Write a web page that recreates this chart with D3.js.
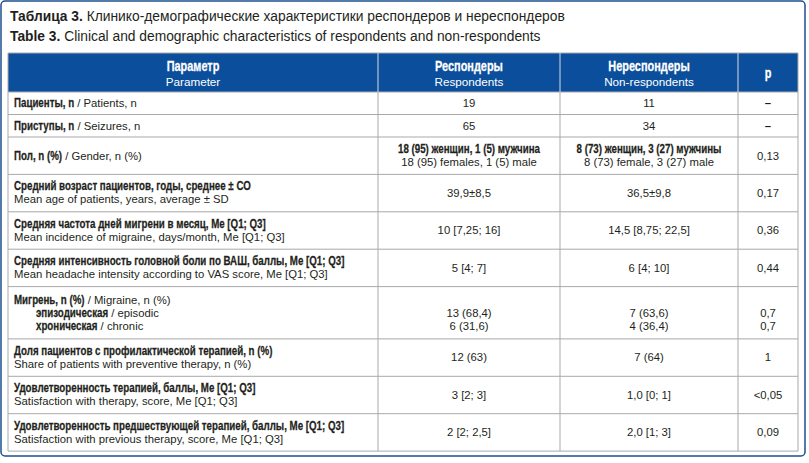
<!DOCTYPE html>
<html>
<head>
<meta charset="utf-8">
<script src="https://cdn.jsdelivr.net/npm/d3@7"></script>
<style>
  body { margin: 0; background: #fff; }
  svg { display: block; }
</style>
</head>
<body>
<div id="wrapper"></div>
<script>
// --- data ---
const titleRu = ["Таблица 3.", " Клинико-демографические характеристики респондеров и нереспондеров"]
const titleEn = ["Table 3.", " Clinical and demographic characteristics of respondents and non-respondents"]

const headRu = ["Параметр", "Респондеры", "Нереспондеры", "p"]
const headEn = ["Parameter", "Respondents", "Non-respondents", ""]

const paramRu = [
  "Пациенты, n",
  "Приступы, n",
  "Пол, n (%)",
  "Средний возраст пациентов, годы, среднее ± СО",
  "Средняя частота дней мигрени в месяц, Me [Q1; Q3]",
  "Средняя интенсивность головной боли по ВАШ, баллы, Me [Q1; Q3]",
  "Мигрень, n (%)",
  "Доля пациентов с профилактической терапией, n (%)",
  "Удовлетворенность терапией, баллы, Me [Q1; Q3]",
  "Удовлетворенность предшествующей терапией, баллы, Me [Q1; Q3]"
]
const paramEn = [
  "Patients, n",
  "Seizures, n",
  "Gender, n (%)",
  "Mean age of patients, years, average ± SD",
  "Mean incidence of migraine, days/month, Me [Q1; Q3]",
  "Mean headache intensity according to VAS score, Me [Q1; Q3]",
  "Migraine, n (%)",
  "Share of patients with preventive therapy, n (%)",
  "Satisfaction with therapy, score, Me [Q1; Q3]",
  "Satisfaction with previous therapy, score, Me [Q1; Q3]"
]
// "inline" = ru / en on one line, "stacked" = en under ru
const paramLayout = ["inline", "inline", "inline", "stacked", "stacked", "stacked", "inline", "stacked", "stacked", "stacked"]

const migraineRow = 6
const migraineTypesRu = ["эпизодическая", "хроническая"]
const migraineTypesEn = ["episodic", "chronic"]

const respondents = [
  "19", "65",
  ["18 (95) женщин, 1 (5) мужчина", "18 (95) females, 1 (5) male"],
  "39,9±8,5", "10 [7,25; 16]", "5 [4; 7]",
  ["", "13 (68,4)", "6 (31,6)"],
  "12 (63)", "3 [2; 3]", "2 [2; 2,5]"
]
const nonRespondents = [
  "11", "34",
  ["8 (73) женщин, 3 (27) мужчины", "8 (73) female, 3 (27) male"],
  "36,5±9,8", "14,5 [8,75; 22,5]", "6 [4; 10]",
  ["", "7 (63,6)", "4 (36,4)"],
  "7 (64)", "1,0 [0; 1]", "2,0 [1; 3]"
]
const pValues = [
  "–", "–", "0,13", "0,17", "0,36", "0,44",
  ["", "0,7", "0,7"],
  "1", "<0,05", "0,09"
]

// --- layout ---
const width = 809, height = 463
const colEdges = [8, 378, 560, 738, 798]
const headerTop = 53, headerBottom = 92
const lineGap = 13
const font = "'Liberation Sans', Arial, sans-serif"
const boldSize = 12.5, boldSquash = 0.78   // no condensed face installed, so squeeze the bold
const regSize = 11.3
const textColor = "#231f20"
const gridColor = "#a9a9a9"
const headBlue = "#0b4f9c"
const frameBlue = "#1c4f8e"

const svg = d3.select("#wrapper")
  .append("svg")
  .attr("width", width)
  .attr("height", height)
  .attr("font-family", font)

svg.append("rect")
  .attr("x", 1).attr("y", 1)
  .attr("width", 804).attr("height", 455)
  .attr("rx", 4)
  .attr("fill", "#fff")
  .attr("stroke", frameBlue)
  .attr("stroke-width", 1.5)

// title
;[titleRu, titleEn].forEach((t, i) => {
  const txt = svg.append("text")
    .attr("x", 10)
    .attr("y", 21 + i * 20)
    .attr("font-size", 13.8)
    .attr("fill", textColor)
  txt.append("tspan").attr("font-weight", "bold").text(t[0])
  txt.append("tspan").text(t[1])
})

// condensed bold text; returns drawn width
function boldText(parent, x, y, str, size, anchor, fill) {
  const col = fill || textColor
  const t = parent.append("text")
    .attr("transform", `translate(${x},${y}) scale(${boldSquash},1)`)
    .attr("font-weight", "bold")
    .attr("font-size", size)
    .attr("text-anchor", anchor || "start")
    .attr("fill", col)
    .attr("stroke", col)
    .attr("stroke-width", 0.25)
    .text(str)
  return t.node().getComputedTextLength() * boldSquash
}

// rows
const rows = paramRu.map((ru, i) => {
  const asLines = v => Array.isArray(v) ? v : [v]
  let paramLines
  if (paramLayout[i] == "stacked") {
    paramLines = [{ b: ru, r: "", indent: 0 }, { b: "", r: paramEn[i], indent: 0 }]
  } else {
    paramLines = [{ b: ru, r: " / " + paramEn[i], indent: 0 }]
  }
  if (i == migraineRow) {
    migraineTypesRu.forEach((m, j) => paramLines.push({ b: m, r: " / " + migraineTypesEn[j], indent: 22 }))
  }
  const cells = [asLines(respondents[i]), asLines(nonRespondents[i]), asLines(pValues[i])]
  const n = d3.max([paramLines.length, ...cells.map(c => c.length)])
  return { paramLines, cells, n }
})

const rowHeight = d3.scaleLinear().domain([1, 2]).range([22.5, 37.4])
const bottoms = d3.cumsum(rows, d => rowHeight(d.n)).map(v => v + headerBottom)
rows.forEach((r, i) => {
  r.y0 = i == 0 ? headerBottom : bottoms[i - 1]
  r.y1 = bottoms[i]
  r.cy = (r.y0 + r.y1) / 2
})
const tableBottom = bottoms[bottoms.length - 1]

// header
svg.append("rect")
  .attr("x", colEdges[0]).attr("y", headerTop)
  .attr("width", colEdges[4] - colEdges[0])
  .attr("height", headerBottom - headerTop)
  .attr("fill", headBlue)

headRu.forEach((h, i) => {
  const cx = (colEdges[i] + colEdges[i + 1]) / 2
  const two = headEn[i] != ""
  boldText(svg, cx, two ? 71 : 78, h, 14, "middle", "#fff")
  if (two) {
    svg.append("text")
      .attr("x", cx)
      .attr("y", 85.5)
      .attr("text-anchor", "middle")
      .attr("font-size", 11.7)
      .attr("fill", "#fff")
      .text(headEn[i])
  }
})

// grid
const grid = svg.append("g").attr("stroke", gridColor).attr("stroke-width", 1)
;[headerBottom, ...bottoms].forEach(y => {
  grid.append("line")
    .attr("x1", colEdges[0]).attr("x2", colEdges[4])
    .attr("y1", y).attr("y2", y)
})
colEdges.forEach((x, i) => {
  grid.append("line")
    .attr("x1", x).attr("x2", x)
    .attr("y1", headerBottom).attr("y2", tableBottom)
  svg.append("line")
    .attr("x1", x).attr("x2", x)
    .attr("y1", headerTop).attr("y2", headerBottom)
    .attr("stroke", i > 0 && i < 4 ? "#d6dbe6" : gridColor)
    .attr("stroke-width", 1)
})
grid.append("line")
  .attr("x1", colEdges[0]).attr("x2", colEdges[4])
  .attr("y1", headerTop).attr("y2", headerTop)

// body text
const body = svg.append("g").attr("fill", textColor)
rows.forEach(r => {
  const np = r.paramLines.length
  r.paramLines.forEach((l, j) => {
    const y = r.cy + (j - (np - 1) / 2) * lineGap + 3.8
    let x = colEdges[0] + 6 + l.indent
    if (l.b) x += boldText(body, x, y, l.b, boldSize)
    if (l.r) {
      body.append("text")
        .attr("x", x)
        .attr("y", y)
        .attr("font-size", regSize)
        .style("white-space", "pre")
        .text(l.r)
    }
  })
  r.cells.forEach((c, k) => {
    const cx = (colEdges[k + 1] + colEdges[k + 2]) / 2
    c.forEach((v, j) => {
      if (!v) return
      const y = r.cy + (j - (c.length - 1) / 2) * lineGap + 3.8
      if (c.length == 2 && j == 0) {
        boldText(body, cx, y, v, boldSize, "middle")
      } else {
        body.append("text")
          .attr("x", cx)
          .attr("y", y)
          .attr("text-anchor", "middle")
          .attr("font-size", regSize)
          .attr("font-weight", v == "–" ? "bold" : "normal")
          .text(v)
      }
    })
  })
})
</script>
</body>
</html>
